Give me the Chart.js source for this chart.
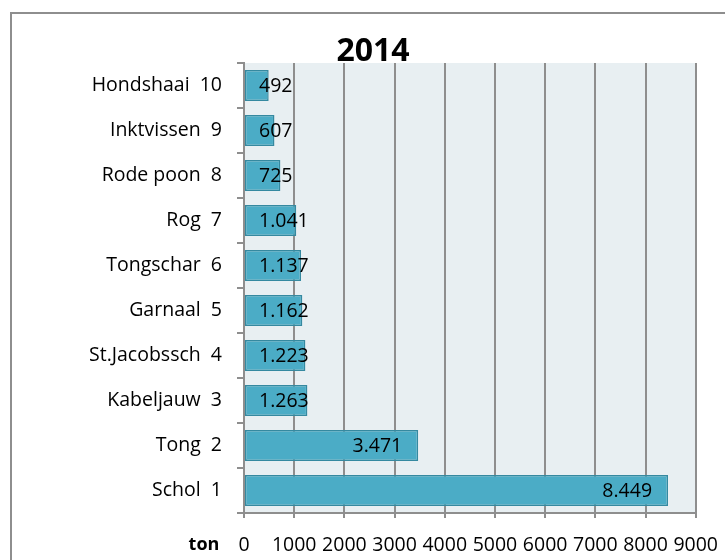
<!DOCTYPE html>
<html>
<head>
<meta charset="utf-8">
<script src="https://cdn.jsdelivr.net/npm/chart.js@4"></script>
<style>
  body { margin: 0; overflow: hidden; background: #fff; }
  #frame { position: absolute; left: 10px; top: 12px; width: 760px; height: 600px; border: 2px solid #8e8e8e; }
  #box { position: absolute; left: 0; top: 0; width: 722px; height: 560px; }
</style>
</head>
<body>
<div id="frame"><div id="box"><canvas id="vangstChart"></canvas></div></div>
<script>
// vangst 2014, van hoog (10) naar laag (1) zoals in de grafiek
const soorten = ['Hondshaai', 'Inktvissen', 'Rode poon', 'Rog', 'Tongschar', 'Garnaal', 'St.Jacobssch', 'Kabeljauw', 'Tong', 'Schol'];
const rang = [10, 9, 8, 7, 6, 5, 4, 3, 2, 1];
const tonnen = [492, 607, 725, 1041, 1137, 1162, 1223, 1263, 3471, 8449];
const xTicks = [0, 1000, 2000, 3000, 4000, 5000, 6000, 7000, 8000, 9000];

const labels = soorten.map((s, i) => s + '  ' + rang[i]);
const fmt = v => v.toString().replace(/\B(?=(\d{3})+(?!\d))/g, '.');

Chart.defaults.font.family = '"Open Sans", sans-serif';
Chart.defaults.font.size = 19.5;
Chart.defaults.color = '#000';

const plotBg = {
  id: 'plotBg',
  beforeDraw(chart) {
    const { ctx, chartArea: a } = chart;
    ctx.save();
    ctx.fillStyle = '#e8eff2';
    ctx.fillRect(a.left, a.top, a.right - a.left, a.bottom - a.top);
    ctx.restore();
  }
};

const extras = {
  id: 'extras',
  afterDatasetsDraw(chart) {
    const { ctx, chartArea: a } = chart;
    const meta = chart.getDatasetMeta(0);
    ctx.save();
    ctx.font = '19.5px "Open Sans", sans-serif';
    ctx.fillStyle = '#000';
    ctx.textBaseline = 'middle';
    ctx.textAlign = 'left';
    meta.data.forEach((bar, i) => {
      const txt = fmt(tonnen[i]);
      const w = ctx.measureText(txt).width;
      const x = Math.max(bar.base + 14, bar.x - 16 - w);
      ctx.fillText(txt, x, bar.y + 1);
    });
    // titel
    ctx.font = 'bold 32px "Open Sans", sans-serif';
    ctx.textAlign = 'center';
    ctx.textBaseline = 'alphabetic';
    ctx.fillText('2014', chart.width / 2, a.top - 2);
    // eenheid
    ctx.font = 'bold 18px "Open Sans", sans-serif';
    ctx.textAlign = 'center';
    ctx.textBaseline = 'middle';
    ctx.fillText('ton', a.left - 40, a.bottom + 32);
    ctx.restore();
  }
};

new Chart(document.getElementById('vangstChart'), {
  type: 'bar',
  data: {
    labels: labels,
    datasets: [{
      data: tonnen,
      backgroundColor: '#4bacc6',
      borderColor: '#3589a0',
      borderWidth: 1.5,
      borderSkipped: false,
      barPercentage: 0.69,
      categoryPercentage: 1.0
    }]
  },
  options: {
    indexAxis: 'y',
    responsive: true,
    maintainAspectRatio: false,
    animation: false,
    layout: { padding: { top: 49, right: 35, bottom: 0, left: 0 } },
    plugins: {
      legend: { display: false },
      tooltip: { enabled: false }
    },
    scales: {
      x: {
        min: 0,
        max: 9000,
        afterBuildTicks: s => { s.ticks = xTicks.map(v => ({ value: v })); },
        afterFit: s => { s.height = 61; },
        ticks: { padding: 16, maxRotation: 0, autoSkip: false, callback: v => String(v) },
        grid: { color: '#8e8e8e', lineWidth: 2, tickLength: 5 },
        border: { color: '#8e8e8e', width: 2 }
      },
      y: {
        afterFit: s => { s.width = 232; },
        ticks: { padding: 15 },
        grid: { drawOnChartArea: false, color: '#8e8e8e', lineWidth: 2, tickLength: 7, offset: true },
        border: { color: '#8e8e8e', width: 2 }
      }
    }
  },
  plugins: [plotBg, extras]
});
</script>
</body>
</html>
